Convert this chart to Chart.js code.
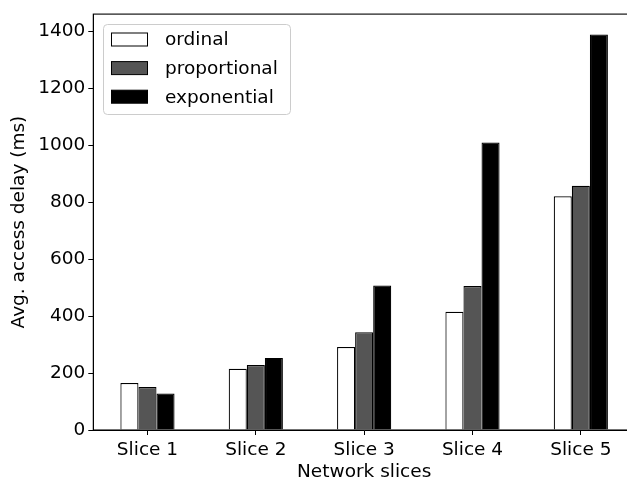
<!DOCTYPE html>
<html>
<head>
<meta charset="utf-8">
<script src="https://cdn.jsdelivr.net/npm/chart.js@4/dist/chart.umd.min.js"></script>
<style>
  html, body { margin: 0; padding: 0; background: #fff; overflow: hidden; }
  #wrap { width: 627px; height: 480px; overflow: hidden; position: relative; }
  canvas { display: block; }
</style>
</head>
<body>
<div id="wrap"><canvas id="c" width="636" height="480"></canvas></div>
<script>
// Average access delay per network slice, for three allocation schemes
const categories = ['Slice 1', 'Slice 2', 'Slice 3', 'Slice 4', 'Slice 5'];
const ordinal = [165, 215, 291, 415, 820];
const proportional = [151, 228, 343, 505, 857];
const exponential = [128, 253, 507, 1009, 1388];
const yTicks = [0, 200, 400, 600, 800, 1000, 1200, 1400];
const seriesNames = ['ordinal', 'proportional', 'exponential'];

const FONT = 'DejaVu Sans';
const FS = 18.5;

// Frame on all four sides of the plot area
const frame = {
  id: 'frame',
  afterDatasetsDraw(chart) {
    const { ctx, chartArea: a } = chart;
    ctx.save();
    ctx.strokeStyle = '#000';
    ctx.lineWidth = 1.1;
    ctx.strokeRect(a.left, a.top, a.right - a.left, a.bottom - a.top);
    ctx.restore();
  }
};

// Legend box in the upper-left corner of the plot
const boxLegend = {
  id: 'boxLegend',
  afterDraw(chart) {
    const { ctx } = chart;
    const x = 103.5, y = 24.5, w = 187, h = 90, r = 4;
    ctx.save();
    ctx.beginPath();
    ctx.roundRect(x, y, w, h, r);
    ctx.fillStyle = 'rgba(255,255,255,0.8)';
    ctx.fill();
    ctx.strokeStyle = '#cccccc';
    ctx.lineWidth = 1;
    ctx.stroke();
    ctx.font = FS + 'px "' + FONT + '"';
    ctx.textBaseline = 'middle';
    ctx.textAlign = 'left';
    chart.data.datasets.forEach((ds, i) => {
      const cy = 39.5 + i * 28.6;
      ctx.fillStyle = ds.backgroundColor;
      ctx.fillRect(111, cy - 6.5, 37, 13);
      ctx.strokeStyle = '#000';
      ctx.lineWidth = 1;
      ctx.strokeRect(111.5, cy - 6.5, 36, 13);
      ctx.fillStyle = '#000';
      ctx.fillText(ds.label, 165, cy + 1);
    });
    ctx.restore();
  }
};

const styleFor = (fill) => ({
  backgroundColor: fill,
  borderColor: '#000',
  borderWidth: 1.2,
  borderSkipped: 'bottom',
  categoryPercentage: 0.5,
  barPercentage: 1.0
});

new Chart(document.getElementById('c'), {
  type: 'bar',
  data: {
    labels: categories,
    datasets: [
      { label: seriesNames[0], data: ordinal, ...styleFor('#ffffff') },
      { label: seriesNames[1], data: proportional, ...styleFor('#555555') },
      { label: seriesNames[2], data: exponential, ...styleFor('#000000') }
    ]
  },
  options: {
    responsive: false,
    animation: false,
    devicePixelRatio: 1,
    layout: { padding: { left: 0, right: 1, top: 14, bottom: -3 } },
    plugins: { legend: { display: false }, tooltip: { enabled: false } },
    scales: {
      x: {
        offset: true,
        afterFit(scale) { scale.height = 53; },
        grid: { display: true, drawOnChartArea: false, offset: false, tickLength: 5, tickColor: '#000', tickWidth: 1 },
        border: { display: true, color: '#000', width: 1 },
        ticks: { color: '#000', font: { family: FONT, size: FS }, padding: 4, maxRotation: 0 },
        title: { display: true, text: 'Network slices', color: '#000', font: { family: FONT, size: FS }, padding: { top: 0, bottom: 0 } }
      },
      y: {
        min: 0,
        max: 1459.5,
        afterBuildTicks(scale) { scale.ticks = yTicks.map(v => ({ value: v })); },
        afterFit(scale) { scale.width = 93.3; },
        grid: { display: true, drawOnChartArea: false, tickLength: 5, tickColor: '#000', tickWidth: 1 },
        border: { display: true, color: '#000', width: 1 },
        ticks: { color: '#000', font: { family: FONT, size: FS }, padding: 3, callback: (v) => String(v) },
        title: { display: true, text: 'Avg. access delay (ms)', color: '#000', font: { family: FONT, size: FS }, padding: { top: 8, bottom: 0 } }
      }
    }
  },
  plugins: [frame, boxLegend]
});
</script>
</body>
</html>
